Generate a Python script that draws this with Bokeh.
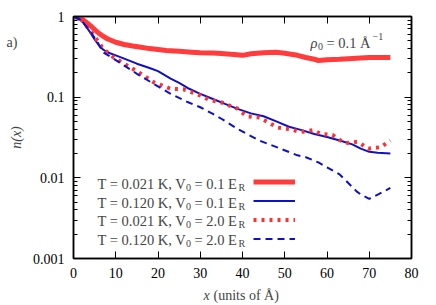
from bokeh.plotting import figure
from bokeh.models import (Range1d, FixedTicker, CustomJSTickFormatter, LogAxis, LinearAxis,
                          Label, Legend, LegendItem)
from bokeh.embed import file_html
from bokeh.resources import INLINE

# ---------------- data ----------------
x_red_solid = [0, 1, 2, 3, 4, 5, 6, 7, 8, 10, 12, 14, 16, 18, 20, 22, 25, 28, 30, 33, 35, 38, 40,
               42, 45, 48, 50, 53, 55, 57, 58, 60, 63, 65, 68, 70, 73, 75]
y_red_solid = [1.0, 0.98, 0.93, 0.85, 0.77, 0.69, 0.62, 0.57, 0.53, 0.48, 0.45, 0.43, 0.415, 0.40,
               0.39, 0.38, 0.37, 0.36, 0.355, 0.352, 0.348, 0.338, 0.33, 0.345, 0.355, 0.36, 0.35,
               0.33, 0.31, 0.295, 0.285, 0.29, 0.295, 0.30, 0.305, 0.31, 0.31, 0.31]

x_blue_solid = [0, 1, 2, 3, 4, 5, 6, 7, 8, 10, 12, 15, 18, 20, 23, 25, 27, 30, 33, 36, 39, 42, 45,
                48, 51, 54, 57, 60, 63, 66, 68, 70, 72, 75]
y_blue_solid = [1.0, 0.97, 0.88, 0.75, 0.63, 0.52, 0.44, 0.39, 0.36, 0.33, 0.30, 0.26, 0.23, 0.21,
                0.17, 0.15, 0.13, 0.11, 0.095, 0.082, 0.071, 0.063, 0.058, 0.05, 0.043, 0.039,
                0.035, 0.032, 0.029, 0.026, 0.023, 0.021, 0.0205, 0.020]

x_red_dot = [0, 2, 4, 5.7, 7, 9.5, 12, 15, 19, 23, 26, 30, 32, 35, 38.8, 41, 44, 46, 48.3, 51.4,
             53.7, 56.8, 58.5, 61.3, 63.2, 64.4, 67.2, 69.8, 72.7, 75]
y_red_dot = [1.0, 0.9, 0.66, 0.5, 0.40, 0.31, 0.26, 0.21, 0.153, 0.127, 0.125, 0.105, 0.093,
             0.086, 0.072, 0.058, 0.056, 0.049, 0.042, 0.040, 0.037, 0.039, 0.035, 0.034, 0.029,
             0.027, 0.028, 0.023, 0.024, 0.029]

x_blue_dash = [0, 2, 4, 5.7, 7, 9.5, 15, 19, 23, 27, 30, 33, 35, 39, 44, 49, 53, 55, 58, 60, 63,
               67, 68, 70, 72, 75]
y_blue_dash = [1.0, 0.88, 0.65, 0.48, 0.36, 0.30, 0.195, 0.146, 0.11, 0.087, 0.075, 0.062, 0.054,
               0.040, 0.029, 0.023, 0.019, 0.018, 0.0155, 0.0135, 0.011, 0.0068, 0.0062, 0.0055,
               0.0062, 0.0075]

series_labels = ["T = 0.021 K, V", "T = 0.120 K, V", "T = 0.021 K, V", "T = 0.120 K, V"]
series_v0 = ["0.1", "0.1", "2.0", "2.0"]

x_ticks = [0, 10, 20, 30, 40, 50, 60, 70, 80]
y_ticks = [0.001, 0.01, 0.1, 1]

RED = "#ff3030"
BLUE = "#1010c8"
FONT = "Liberation Serif"

p = figure(width=436, height=305, x_range=Range1d(0, 80), y_range=Range1d(0.001, 1),
           y_axis_type="log", output_backend="svg", toolbar_location=None,
           min_border_left=73, min_border_right=25, min_border_top=16, min_border_bottom=47)
p.grid.visible = False
p.outline_line_color = "black"
p.outline_line_width = 1.5

r1 = p.line(x_red_solid, y_red_solid, line_color=RED, line_width=5, line_alpha=0.95, line_join="round")
r2 = p.line(x_blue_solid, y_blue_solid, line_color=BLUE, line_width=2, line_join="round")
r3 = p.line(x_red_dot, y_red_dot, line_color=RED, line_width=4, line_dash="3 5", line_join="round")
r4 = p.line(x_blue_dash, y_blue_dash, line_color=BLUE, line_width=2, line_dash="7 5", line_join="round")

minor = [m * 10.0 ** e for e in range(-3, 0) for m in range(2, 10)]
yticker = FixedTicker(ticks=y_ticks, minor_ticks=minor)
xticker = FixedTicker(ticks=x_ticks)
fmt_y = CustomJSTickFormatter(code="return Number(tick.toPrecision(3)).toString()")
blank = CustomJSTickFormatter(code="return ''")

def style(ax, labels=True):
    ax.axis_line_color = "black"
    ax.axis_line_width = 1.5
    ax.major_tick_in = 7
    ax.major_tick_out = 0
    ax.minor_tick_in = 4
    ax.minor_tick_out = 0
    ax.major_tick_line_color = "black"
    ax.minor_tick_line_color = "black"
    ax.major_label_text_font = FONT
    ax.major_label_text_font_size = "14px"
    ax.major_label_text_color = "black"
    if not labels:
        ax.major_label_standoff = 0
        ax.major_label_text_alpha = 0

xa = p.xaxis[0]
xa.ticker = xticker
style(xa)
xa.major_label_standoff = 9

ya = p.yaxis[0]
ya.ticker = yticker
ya.formatter = fmt_y
style(ya)
ya.major_label_standoff = 9
ya.axis_label = "n(x)"
ya.axis_label_text_font = FONT
ya.axis_label_text_font_style = "italic"
ya.axis_label_text_font_size = "14px"
ya.axis_label_standoff = 6

ra = LogAxis(ticker=yticker, formatter=blank)
style(ra, False)
p.add_layout(ra, "right")
ta = LinearAxis(ticker=xticker, formatter=blank)
style(ta, False)
p.add_layout(ta, "above")

# Texts outside the frame are put in side panels so that they are not clipped.
# x-axis title: italic "x" + "(units of Å)"
p.add_layout(Label(x=40, y=0.001, x_units="data", y_units="data", text="x", text_font=FONT,
                   text_font_style="italic", text_font_size="14px", text_align="left",
                   text_baseline="middle", x_offset=-39, y_offset=-37), "right")
p.add_layout(Label(x=40, y=0.001, x_units="data", y_units="data", text="(units of Å)", text_font=FONT,
                   text_font_size="14px", text_align="left", text_baseline="middle",
                   x_offset=-29, y_offset=-37), "below")

# panel label
p.add_layout(Label(x=0, y=1, text="a)", text_font=FONT, text_font_size="14px", text_align="left",
                   text_baseline="middle", x_offset=-67, y_offset=-26), "right")

# rho label
RX, RY = 56.1, 0.476
p.add_layout(Label(x=RX, y=RY, text="ρ", text_font=FONT, text_font_style="italic",
                   text_font_size="14.5px", text_baseline="middle"))
p.add_layout(Label(x=RX, y=RY, text="0", text_font=FONT, text_font_size="10px",
                   text_baseline="middle", x_offset=7.5, y_offset=-4))
p.add_layout(Label(x=RX, y=RY, text="= 0.1 Å", text_font=FONT, text_font_size="14.5px",
                   text_baseline="middle", x_offset=16))
p.add_layout(Label(x=RX, y=RY, text="−1", text_font=FONT, text_font_size="10px",
                   text_baseline="middle", x_offset=62, y_offset=6))

# legend texts
LX = 5.68
row_y = [0.0085, 0.00494, 0.00292, 0.00172]
for lab, v0, yy in zip(series_labels, series_v0, row_y):
    p.add_layout(Label(x=LX, y=yy, text=lab, text_font=FONT, text_font_size="14.5px",
                       text_baseline="middle"))
    p.add_layout(Label(x=LX, y=yy, text="0", text_font=FONT, text_font_size="10px",
                       text_baseline="middle", x_offset=88.5, y_offset=-4))
    p.add_layout(Label(x=LX, y=yy, text="= " + v0 + " E", text_font=FONT, text_font_size="14.5px",
                       text_baseline="middle", x_offset=97))
    p.add_layout(Label(x=LX, y=yy, text="R", text_font=FONT, text_font_size="10px",
                       text_baseline="middle", x_offset=141, y_offset=-4))

legend = Legend(items=[LegendItem(label="", renderers=[r]) for r in (r1, r2, r3, r4)],
                location=(180, 10), glyph_width=42, glyph_height=19, spacing=0, padding=0,
                margin=0, label_width=0, label_standoff=0, label_height=19,
                border_line_color=None, background_fill_alpha=0)
p.add_layout(legend)

open("out.html", "w").write(file_html(p, INLINE))
